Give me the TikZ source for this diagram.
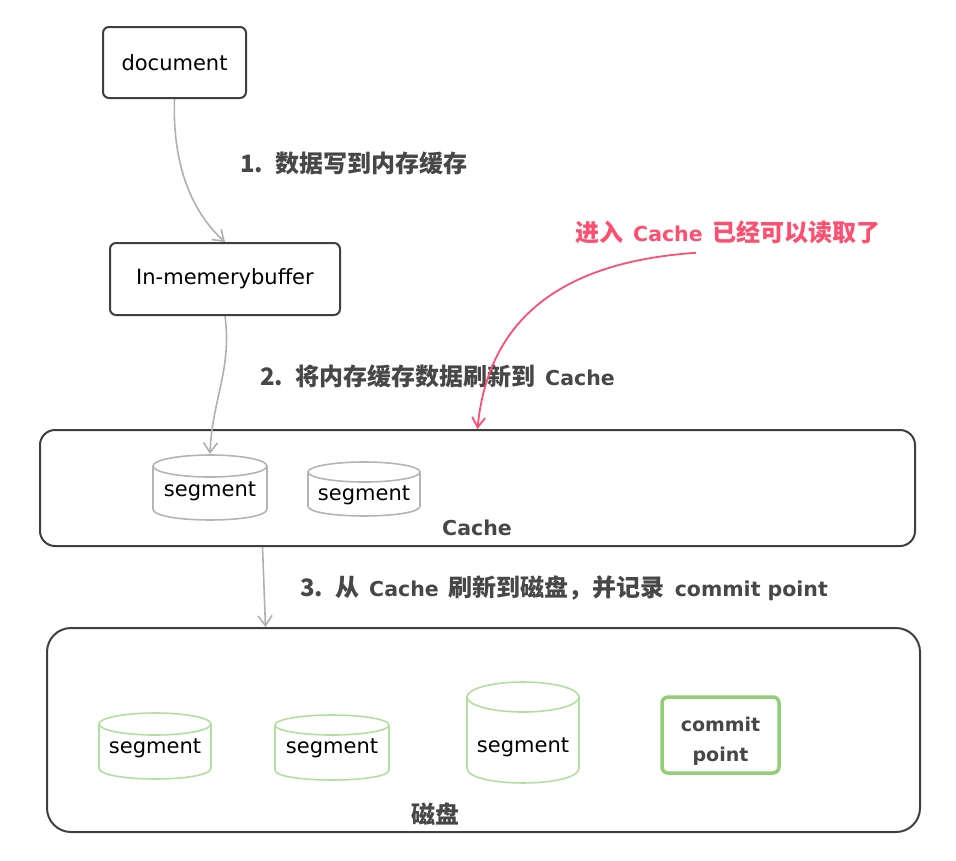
\documentclass[tikz,border=0pt]{standalone}
\usepackage{fontspec}
\setmainfont{DejaVu Sans}
\newfontfamily\cjk{Noto Sans CJK SC}
\usetikzlibrary{arrows.meta,calc}
\definecolor{ink}{HTML}{3F3F3F}
\definecolor{lbl}{HTML}{474747}
\definecolor{arr}{HTML}{B0B0B0}
\definecolor{segg}{HTML}{B4B4B4}
\definecolor{grn}{HTML}{B2DEA0}
\definecolor{grnd}{HTML}{92CF74}
\definecolor{rd}{HTML}{FF4F70}
\newcommand\mycyl[8]{%
  \node[segtxt] (#1) at (#2,#8) {segment};
  \draw[cyl,#7] (#2,#3) ellipse [x radius=#5, y radius=#6];
  \draw[cyl,#7] ({#2-#5},#3) -- ({#2-#5},#4) .. controls ({#2-#5},{#4+1.33*#6}) and ({#2+#5},{#4+1.33*#6}) .. ({#2+#5},#4) -- ({#2+#5},#3);
}
\newcommand\zh[1]{{\cjk\bfseries\fontsize{24}{28}\selectfont #1}}
\newcommand\en[1]{{\bfseries\fontsize{20.5}{24}\selectfont #1}}
\newcommand\gap{\hspace{10pt}}
\newcommand\numgap{\hspace{12pt}}
\tikzset{
  box/.style={draw=ink, line width=2pt, rounded corners=6pt, inner sep=0pt, text=black, font=\fontsize{21}{24}\selectfont},
  bigbox/.style={draw=ink, line width=2pt, inner sep=0pt},
  segtxt/.style={inner sep=0pt, text=black, font=\fontsize{21}{24}\selectfont},
  cyl/.style={line width=1.6pt},
  garrow/.style={draw=arr, line width=1.6pt, -{Straight Barb[length=10pt,width=14pt]}},
  rarrow/.style={draw=rd, line width=1.8pt, -{Straight Barb[length=10pt,width=13pt]}},
  lab/.style={text=lbl, inner sep=0pt, anchor=west},
}
\begin{document}
\begin{tikzpicture}[x=1pt,y=-1pt]
\useasboundingbox (0,0) rectangle (956,860);
% boxes
\node[box, minimum width=143pt, minimum height=71pt] (doc) at (174.5,62.5) {document};
\node[box, minimum width=230pt, minimum height=72pt] (buf) at (225,279) {In-memerybuffer};
\node[bigbox, rounded corners=15pt, minimum width=875pt, minimum height=116pt] (cache) at (477.5,488) {};
\node[bigbox, rounded corners=24pt, minimum width=873pt, minimum height=204pt] (disk) at (483.5,730) {};
\node[text=lbl, inner sep=0pt, font=\bfseries\fontsize{20.5}{24}\selectfont] (cachelbl) at (477,528) {Cache};
\node[text=lbl, inner sep=0pt] (disklbl) at (435,814) {\zh{磁盘}};
% cylinders
\mycyl{c1}{210}{466}{509}{57}{11}{draw=segg}{491}
\mycyl{c2}{364}{472}{506}{56}{10}{draw=segg}{495}
\mycyl{d1}{155}{724}{768}{56}{11}{draw=grn}{748}
\mycyl{d2}{332}{725}{770}{57}{10}{draw=grn}{748}
\mycyl{d3}{523}{697}{768}{56}{15}{draw=grn}{747}
\coordinate (c1top) at (210,454);
\node[draw=grnd, line width=3.5pt, rounded corners=6pt, minimum width=117pt, minimum height=76pt, align=center, text=lbl, inner sep=0pt, font=\bfseries\fontsize{19}{30}\selectfont] (cp) at (720.5,735) {\rule{0pt}{26pt}commit\\point};
% labels
\node[lab] (l1) at (240,163) {\zh{1.\numgap 数据写到内存缓存}};
\node[lab] (l2) at (260,376) {\zh{2.\numgap 将内存缓存数据刷新到}\gap\en{Cache}};
\node[lab] (l3) at (300,588) {\zh{3.\numgap 从}\gap\en{Cache}\gap\zh{刷新到磁盘，并记录}\gap\en{commit point}};
\node[lab, text=rd] (note) at (575,232) {\zh{进入}\gap\en{Cache}\gap\zh{已经可以读取了}};
% arrows
\draw[garrow] (doc.south) .. controls (172,170) and (195,215) .. (buf.north);
\draw[garrow] (buf.south) .. controls (232,370) and (212,400) .. (c1top);
\draw[garrow] ([xshift=-215pt]cache.south) -- ([xshift=-218pt]disk.north);
\draw[rarrow] ([xshift=-32pt,yshift=-9pt]note.south) .. controls (560,262) and (488,320) .. (cache.north);
\end{tikzpicture}
\end{document}
